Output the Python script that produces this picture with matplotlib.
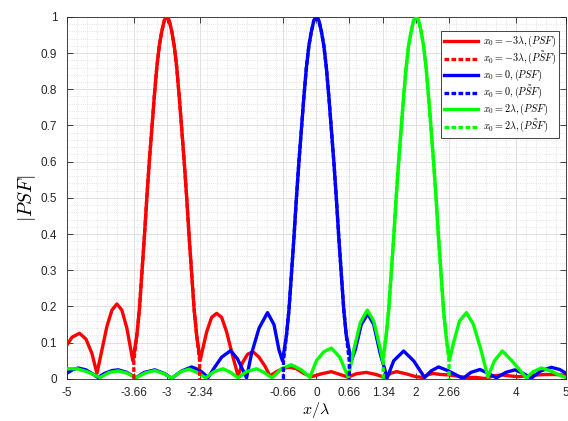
import matplotlib
matplotlib.use('Agg')
import matplotlib.pyplot as plt
from matplotlib.ticker import MultipleLocator

plt.rcParams['font.family'] = ['Liberation Sans', 'DejaVu Sans']
plt.rcParams['mathtext.fontset'] = 'cm'

# main lobe (offset from centre -> |PSF|)
lobe_dx = [-0.60, -0.55, -0.50, -0.45, -0.40, -0.35, -0.30, -0.25, -0.20, -0.15, -0.10, -0.05, 0.00,
           0.05, 0.10, 0.15, 0.20, 0.25, 0.30, 0.35, 0.40, 0.45, 0.50, 0.55, 0.60]
lobe_y = [0.12, 0.19, 0.29, 0.39, 0.50, 0.60, 0.69, 0.78, 0.86, 0.92, 0.96, 0.99, 1.00,
          0.99, 0.96, 0.92, 0.86, 0.78, 0.69, 0.60, 0.50, 0.39, 0.29, 0.19, 0.12]

# x0 = -3 lambda
red_left_x = [-5.00, -4.90, -4.75, -4.62, -4.50, -4.40, -4.30, -4.20, -4.10, -4.00, -3.90, -3.80, -3.72, -3.68]
red_left_y = [0.094, 0.115, 0.126, 0.110, 0.070, 0.015, 0.080, 0.145, 0.190, 0.207, 0.190, 0.140, 0.080, 0.050]
red_right_x = [-2.33, -2.30, -2.20, -2.10, -2.00, -1.90, -1.80, -1.70, -1.57, -1.48, -1.38, -1.27, -1.15, -1.03,
               -0.93, -0.80, -0.65, -0.53, -0.40, -0.25, -0.10, 0.10, 0.30, 0.48, 0.63, 0.80, 1.00, 1.20, 1.37,
               1.50, 1.61, 1.80, 2.00, 2.14, 2.25, 2.34, 2.50, 2.67, 2.85, 3.01, 3.20, 3.38, 3.55, 3.71, 3.90,
               4.05, 4.30, 4.60, 4.80, 5.00]
red_right_y = [0.052, 0.070, 0.130, 0.170, 0.181, 0.170, 0.130, 0.075, 0.008, 0.045, 0.068, 0.075, 0.060, 0.035,
               0.008, 0.020, 0.030, 0.032, 0.028, 0.015, 0.006, 0.014, 0.020, 0.012, 0.005, 0.014, 0.018, 0.012, 0.004,
               0.016, 0.020, 0.014, 0.006, 0.004, 0.012, 0.015, 0.012, 0.011, 0.007, 0.004, 0.004, 0.001, 0.008, 0.011, 0.008,
               0.006, 0.010, 0.012, 0.012, 0.010]

# x0 = 0
blue_left_x = [-5.00, -4.88, -4.77, -4.62, -4.50, -4.38, -4.25, -4.10, -3.97, -3.80, -3.62, -3.45, -3.24, -3.05,
               -2.90, -2.70, -2.50, -2.35, -2.17, -2.05, -1.90, -1.72, -1.58, -1.40, -1.30, -1.15, -0.98, -0.85,
               -0.75, -0.68]
blue_left_y = [0.016, 0.026, 0.030, 0.025, 0.015, 0.004, 0.015, 0.023, 0.025, 0.018, 0.003, 0.018, 0.025, 0.015,
               0.002, 0.022, 0.033, 0.025, 0.004, 0.030, 0.060, 0.078, 0.055, 0.003, 0.070, 0.140, 0.183, 0.150,
               0.080, 0.050]
blue_right_x = [0.70, 0.78, 0.90, 1.03, 1.15, 1.28, 1.42, 1.55, 1.75, 1.95, 2.17, 2.30, 2.45, 2.65, 2.94, 3.10,
                3.28, 3.45, 3.61, 3.80, 3.98, 4.15, 4.31, 4.50, 4.71, 4.88, 5.00]
blue_right_y = [0.050, 0.080, 0.150, 0.180, 0.150, 0.070, 0.003, 0.050, 0.077, 0.050, 0.004, 0.022, 0.033, 0.022,
                0.001, 0.018, 0.026, 0.015, 0.003, 0.018, 0.025, 0.015, 0.002, 0.022, 0.032, 0.026, 0.016]

# x0 = 2 lambda
green_left_x = [-5.00, -4.80, -4.60, -4.34, -4.15, -3.97, -3.80, -3.62, -3.42, -3.24, -3.05, -2.90, -2.72, -2.55,
                -2.40, -2.22, -2.05, -1.87, -1.72, -1.57, -1.40, -1.20, -1.05, -0.89, -0.70, -0.50, -0.30, -0.13,
                0.00, 0.15, 0.30, 0.47, 0.64, 0.75, 0.88, 1.02, 1.15, 1.27, 1.33]
green_left_y = [0.028, 0.028, 0.020, 0.004, 0.018, 0.022, 0.016, 0.003, 0.017, 0.023, 0.014, 0.002, 0.020, 0.027,
                0.018, 0.003, 0.020, 0.028, 0.018, 0.003, 0.020, 0.028, 0.018, 0.003, 0.028, 0.039, 0.025, 0.004,
                0.050, 0.075, 0.085, 0.060, 0.004, 0.080, 0.155, 0.190, 0.160, 0.090, 0.050]
green_right_x = [2.67, 2.75, 2.87, 3.01, 3.15, 3.30, 3.44, 3.57, 3.73, 3.92, 4.21, 4.35, 4.51, 4.70, 4.85, 5.00]
green_right_y = [0.052, 0.100, 0.160, 0.183, 0.150, 0.080, 0.005, 0.050, 0.077, 0.050, 0.003, 0.020, 0.030, 0.022,
                 0.012, 0.004]

centres = [-3, 0, 2]
colors = ['#ff0000', '#0000ff', '#00ff00']
names = [r'$x_0=-3\lambda,(PSF)$', r'$x_0=-3\lambda,(P\tilde{S}F)$',
         r'$x_0=0,(PSF)$', r'$x_0=0,(P\tilde{S}F)$',
         r'$x_0=2\lambda,(PSF)$', r'$x_0=2\lambda,(P\tilde{S}F)$']
sides = [(red_left_x, red_left_y, red_right_x, red_right_y),
         (blue_left_x, blue_left_y, blue_right_x, blue_right_y),
         (green_left_x, green_left_y, green_right_x, green_right_y)]

xticks = [-5, -3.66, -3, -2.34, -0.66, 0, 0.66, 1.34, 2, 2.66, 4, 5]
xtick_labels = ['-5', '-3.66', '-3', '-2.34', '-0.66', '0', '0.66', '1.34', '2', '2.66', '4', '5']

fig = plt.figure(figsize=(5.68, 4.21), dpi=100)
ax = fig.add_axes([0.118, 0.1, 0.878, 0.86])

lw = 2.4
for i, (c, col) in enumerate(zip(centres, colors)):
    lx, ly, rx, ry = sides[i]
    main_x = [c + d for d in lobe_dx]
    # full PSF
    ax.plot(lx + main_x + rx, ly + lobe_y + ry, color=col, lw=lw, label=names[2 * i], zorder=3)
    # truncated PSF (main lobe only)
    tx = [c - 0.66, c - 0.66] + main_x + [c + 0.66, c + 0.66]
    ty = [0, 0.05] + lobe_y + [0.05, 0]
    ax.plot(tx, ty, color=col, lw=lw, ls=(0, (1.4, 0.7)), label=names[2 * i + 1], zorder=4)

ax.set_xlim(-5, 5)
ax.set_ylim(0, 1)
ax.set_xticks(xticks)
ax.set_xticklabels(xtick_labels)
ax.set_yticks([0, 0.1, 0.2, 0.3, 0.4, 0.5, 0.6, 0.7, 0.8, 0.9, 1])
ax.set_yticklabels(['0', '0.1', '0.2', '0.3', '0.4', '0.5', '0.6', '0.7', '0.8', '0.9', '1'])
ax.xaxis.set_minor_locator(MultipleLocator(0.2))
ax.yaxis.set_minor_locator(MultipleLocator(0.02))
ax.grid(True, which='major', color='#dcdcdc', lw=0.6)
ax.grid(True, which='minor', color='#dcdcdc', lw=0.6, ls=':')
ax.set_axisbelow(True)
ax.tick_params(which='major', direction='in', length=4, top=True, right=True,
               labelsize=8.5, colors='#262626', width=0.6, pad=7)
ax.tick_params(axis='x', pad=6)
ax.tick_params(which='minor', length=0)
for s in ax.spines.values():
    s.set_color('#262626')
    s.set_linewidth(0.6)

ax.set_xlabel(r'$x/\lambda$', fontsize=11.5)
ax.xaxis.set_label_coords(0.5, -0.057)
ax.set_ylabel(r'$|PSF|$', fontsize=14, labelpad=2)

leg = ax.legend(loc='upper right', fontsize=7.3, handlelength=3.4, framealpha=1,
                fancybox=False, edgecolor='#262626', borderpad=0.3, labelspacing=0.08,
                handletextpad=0.5, bbox_to_anchor=(0.997, 0.975))
leg.get_frame().set_linewidth(0.6)

fig.savefig('out.png', dpi=100)
